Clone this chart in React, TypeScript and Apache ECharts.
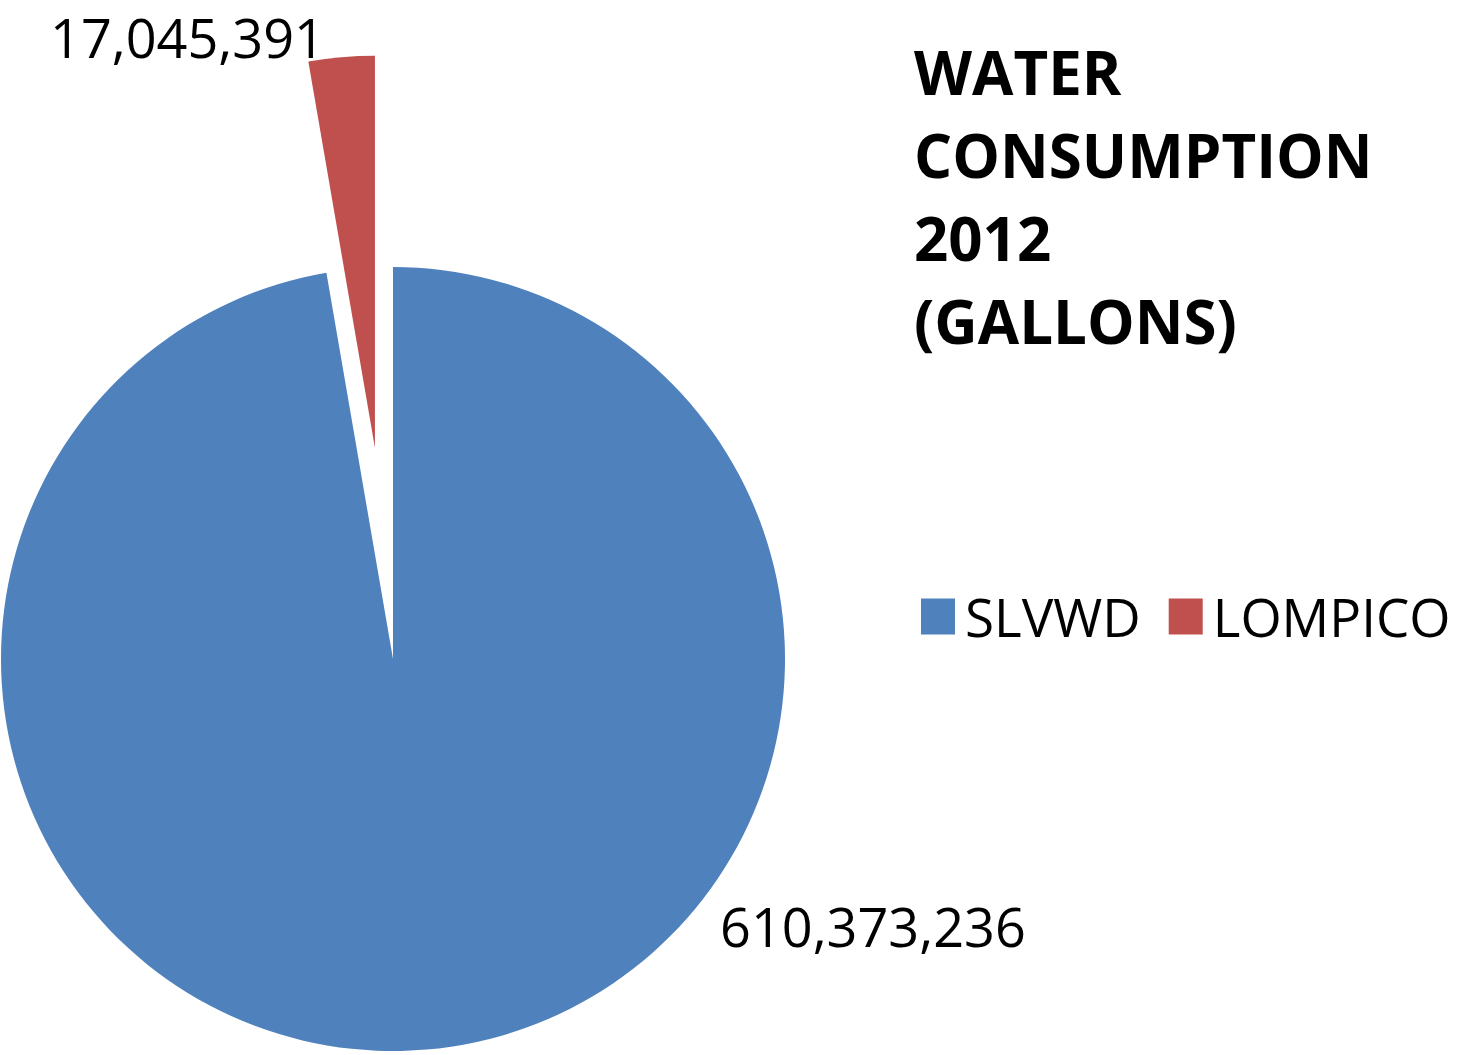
import React, { useEffect, useRef } from "react";
import * as echarts from "echarts";

const categories = ["SLVWD", "LOMPICO"];
const values = [610373236, 17045391];
const colors = ["#4F81BD", "#C0504D"];
const titleLines = ["WATER", "CONSUMPTION", "2012", "(GALLONS)"];
const explodedIndex = 1;

const FONT = "'Open Sans', 'DejaVu Sans', sans-serif";

export default function App() {
  const ref = useRef<HTMLDivElement>(null);
  useEffect(() => {
    if (!ref.current) return;
    const chart = echarts.init(ref.current, null, { renderer: "svg" });
    const labelPos = [
      { x: 720, y: 926 },
      { x: 50, y: 37 },
    ];
    chart.setOption({
      animation: false,
      backgroundColor: "#ffffff",
      title: {
        text: titleLines.join("\n"),
        left: 909,
        top: 25,
        textStyle: {
          fontFamily: FONT,
          fontWeight: "bold",
          fontSize: 60,
          lineHeight: 83,
          color: "#000000",
        },
      },
      legend: {
        data: categories,
        left: 916,
        top: 585,
        width: 1200,
        orient: "horizontal",
        icon: "rect",
        itemWidth: 34,
        itemHeight: 36,
        itemGap: 28,
        selectedMode: false,
        textStyle: {
          fontFamily: FONT,
          fontSize: 53,
          color: "#000000",
          padding: [0, 0, 0, 5],
        },
      },
      graphic: categories.map((name, i) => ({
        type: "text",
        x: labelPos[i].x,
        y: labelPos[i].y,
        silent: true,
        style: {
          text: values[i].toLocaleString("en-US"),
          fontFamily: FONT,
          fontSize: 54,
          fill: "#000000",
          align: "left",
          verticalAlign: "middle",
        },
      })),
      series: [
        {
          type: "pie",
          center: [393, 659],
          radius: 392,
          startAngle: 90,
          clockwise: true,
          selectedMode: "single",
          selectedOffset: 212,
          avoidLabelOverlap: false,
          emphasis: { disabled: true },
          label: { show: false },
          labelLine: { show: false },
          data: categories.map((name, i) => ({
            name,
            value: values[i],
            selected: i === explodedIndex,
            itemStyle: { color: colors[i] },
            select: { itemStyle: { color: colors[i] } },
          })),
        },
      ],
    });
    return () => chart.dispose();
  }, []);
  return (
    <div
      ref={ref}
      style={{ position: "fixed", left: 0, top: 0, width: 1458, height: 1055 }}
    />
  );
}
